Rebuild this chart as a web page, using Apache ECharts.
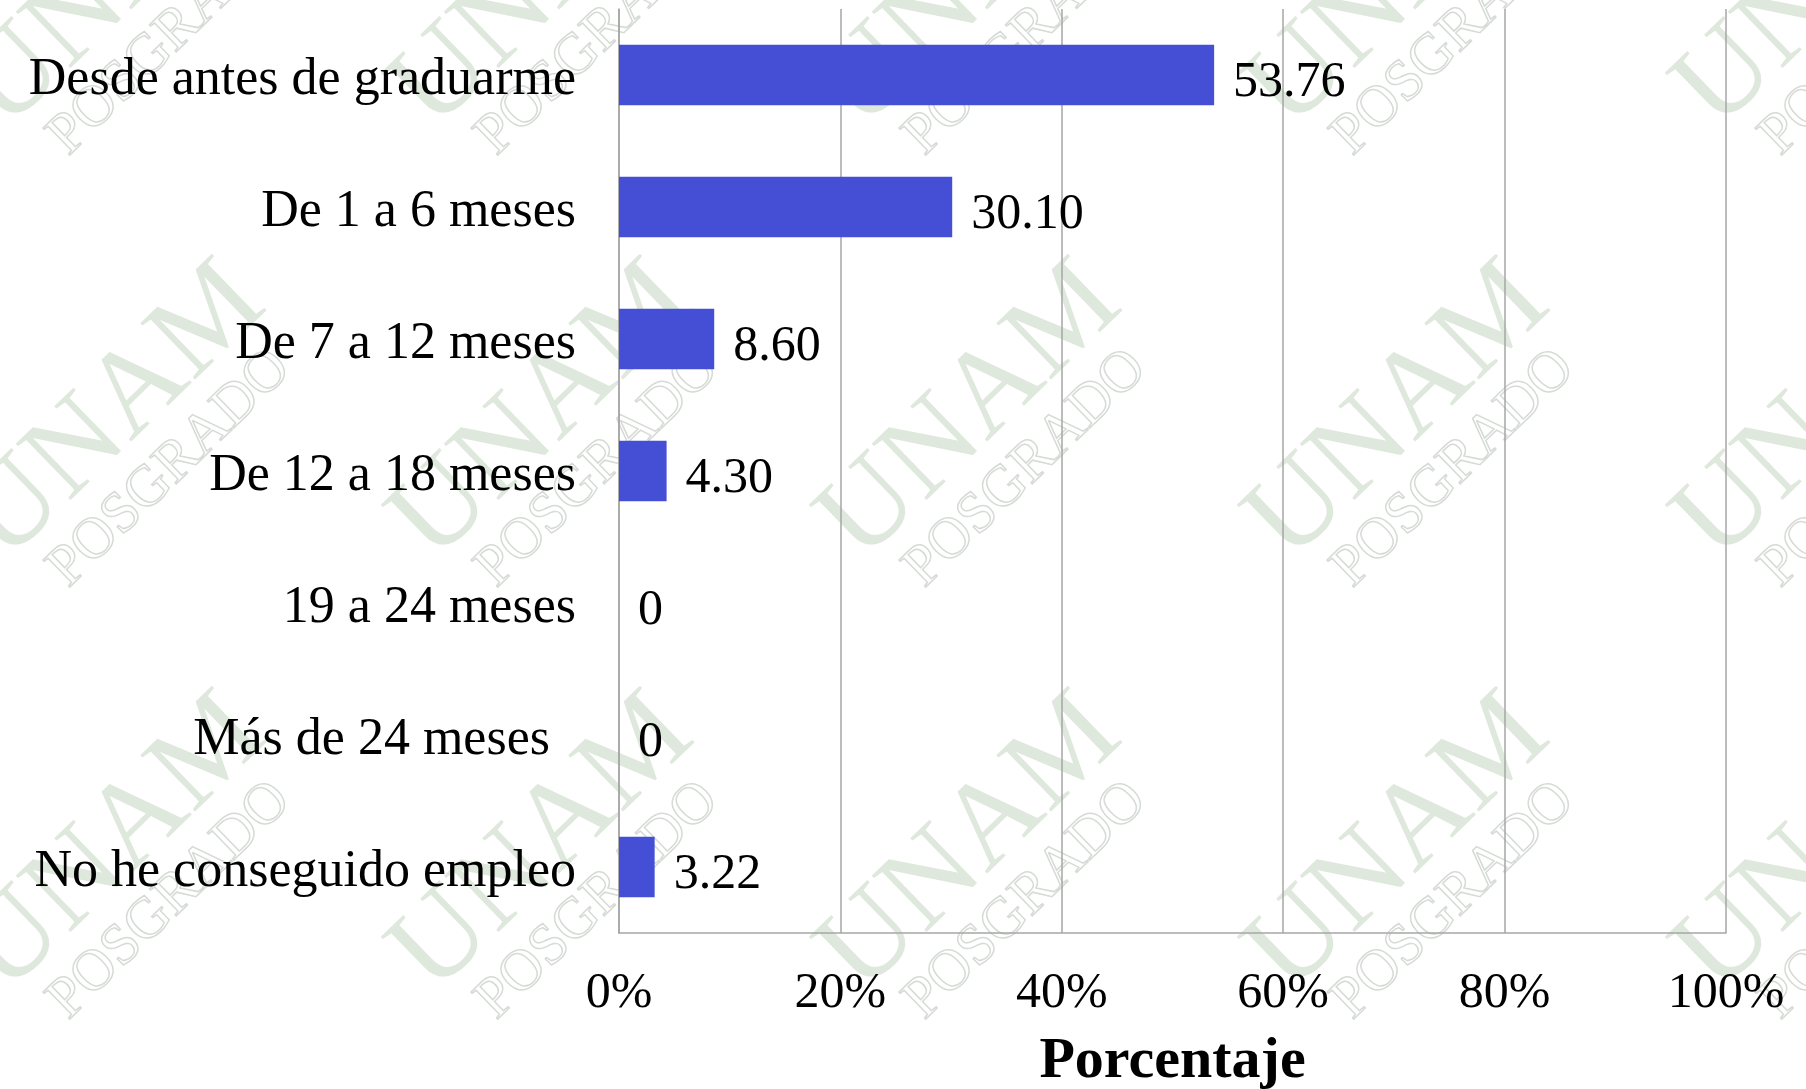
<!DOCTYPE html>
<html>
<head>
<meta charset="utf-8">
<script src="https://cdn.jsdelivr.net/npm/echarts@6/dist/echarts.min.js"></script>
<style>
  html, body { margin: 0; padding: 0; background: #fff; }
  #main { width: 1806px; height: 1089px; }
</style>
</head>
<body>
<div id="main"></div>
<script>
// datos
const categorias = [
  'Desde antes de graduarme',
  'De 1 a 6 meses',
  'De 7 a 12 meses',
  'De 12 a 18 meses',
  '19 a 24 meses',
  'Más de 24 meses  ',
  'No he conseguido empleo'
]
const porcentajes = [53.76, 30.10, 8.60, 4.30, 0, 0, 3.22]
const ticksX = [0, 20, 40, 60, 80, 100]

const serif = '"Liberation Serif", "DejaVu Serif", serif'

// marca de agua UNAM / POSGRADO
const marcaX = [142, 570, 998, 1426, 1854]
const marcaY = [8, 440, 872]
const marcas = []
marcaY.forEach(y => {
  marcaX.forEach(x => {
    marcas.push({
      type: 'group',
      x: x,
      y: y,
      rotation: Math.PI * 0.245,
      silent: true,
      children: [
        {
          type: 'text',
          x: 0, y: -38,
          style: {
            text: 'UNAM', font: '120px ' + serif, fill: '#dfe8dc',
            align: 'center', verticalAlign: 'middle'
          }
        },
        {
          type: 'text',
          x: 0, y: 40,
          style: {
            text: 'POSGRADO', font: '58px ' + serif, fill: 'none',
            stroke: '#d6dbd6', lineWidth: 1.5,
            align: 'center', verticalAlign: 'middle'
          }
        }
      ]
    })
  })
})

const chart = echarts.init(document.getElementById('main'))
chart.setOption({
  animation: false,
  backgroundColor: '#fff',
  graphic: { elements: marcas },
  grid: { left: 619, right: 80, top: 9, bottom: 156, outerBoundsMode: 'none' },
  xAxis: {
    type: 'value',
    min: 0,
    max: 100,
    interval: 20,
    name: 'Porcentaje',
    nameLocation: 'middle',
    nameGap: 100,
    nameTextStyle: { fontFamily: serif, fontSize: 58, fontWeight: 'bold', color: '#000' },
    axisLine: { show: true, lineStyle: { color: '#a6a6a6', width: 1.5 } },
    axisTick: { show: false },
    splitLine: { show: true, lineStyle: { color: '#a6a6a6', width: 1.5 } },
    axisLabel: {
      fontFamily: serif, fontSize: 50, color: '#000', margin: 36,
      formatter: v => ticksX.includes(v) ? v + '%' : ''
    }
  },
  yAxis: {
    type: 'category',
    inverse: true,
    data: categorias,
    axisLine: { show: true, lineStyle: { color: '#a6a6a6', width: 1.5 } },
    axisTick: { show: false },
    axisLabel: {
      fontFamily: serif, fontSize: 52, color: '#000', margin: 43,
      verticalAlign: 'top', lineHeight: 10
    }
  },
  series: [{
    type: 'bar',
    data: porcentajes,
    barWidth: '46%',
    itemStyle: { color: '#444fd6' },
    label: {
      show: true,
      position: 'right',
      distance: 19,
      offset: [0, 8],
      fontFamily: serif,
      fontSize: 50,
      color: '#000',
      formatter: p => p.value === 0 ? '0' : p.value.toFixed(2)
    }
  }]
})
</script>
</body>
</html>
